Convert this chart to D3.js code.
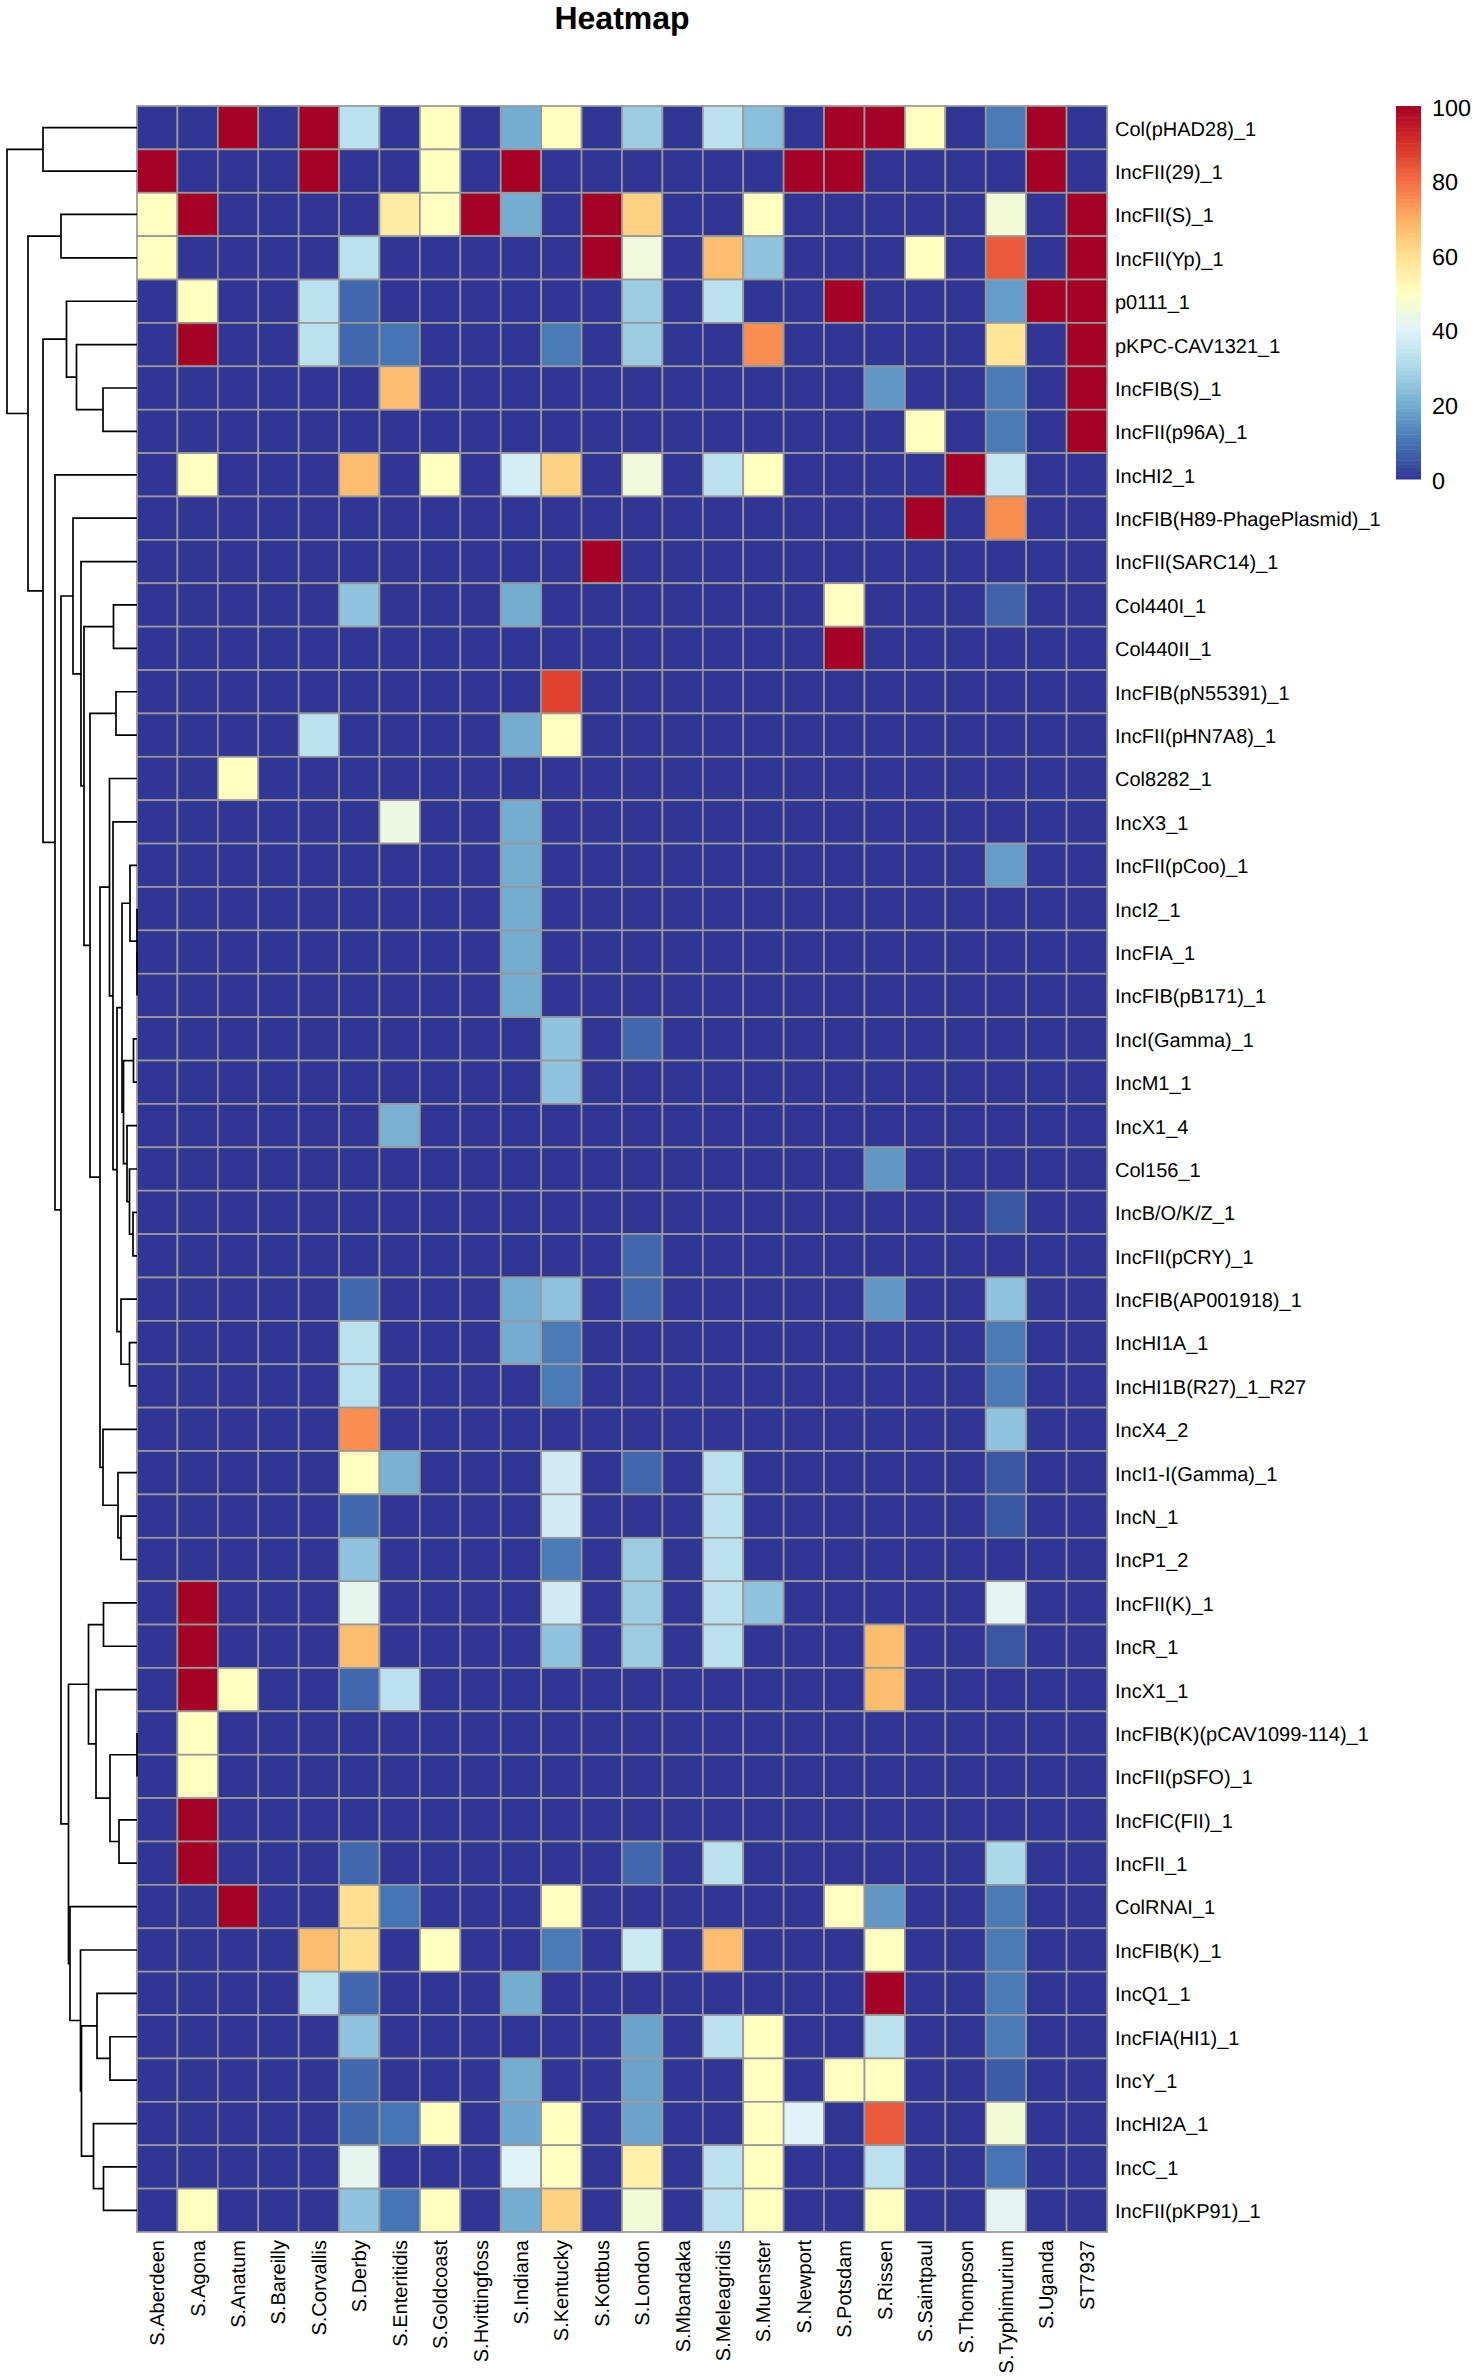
<!DOCTYPE html>
<html>
    <head>
        <meta charset="utf-8">
        <title>Heatmap</title>
        <script src="https://d3js.org/d3.v7.min.js"></script>
        <style>
            html, body { margin: 0; padding: 0; background: #fff; }
            text { font-family: "Liberation Sans", Arial, sans-serif; fill: #000; text-rendering: geometricPrecision; }
        </style>
    </head>
    <body>
        <svg width="1477" height="2376"></svg>

        <script type="text/javascript">
            const serovars = ["S.Aberdeen","S.Agona","S.Anatum","S.Bareilly","S.Corvallis","S.Derby","S.Enteritidis","S.Goldcoast",
                "S.Hvittingfoss","S.Indiana","S.Kentucky","S.Kottbus","S.London","S.Mbandaka","S.Meleagridis","S.Muenster",
                "S.Newport","S.Potsdam","S.Rissen","S.Saintpaul","S.Thompson","S.Typhimurium","S.Uganda","ST7937"];

            const plasmids = ["Col(pHAD28)_1","IncFII(29)_1","IncFII(S)_1","IncFII(Yp)_1","p0111_1","pKPC-CAV1321_1","IncFIB(S)_1",
                "IncFII(p96A)_1","IncHI2_1","IncFIB(H89-PhagePlasmid)_1","IncFII(SARC14)_1","Col440I_1","Col440II_1",
                "IncFIB(pN55391)_1","IncFII(pHN7A8)_1","Col8282_1","IncX3_1","IncFII(pCoo)_1","IncI2_1","IncFIA_1",
                "IncFIB(pB171)_1","IncI(Gamma)_1","IncM1_1","IncX1_4","Col156_1","IncB/O/K/Z_1","IncFII(pCRY)_1",
                "IncFIB(AP001918)_1","IncHI1A_1","IncHI1B(R27)_1_R27","IncX4_2","IncI1-I(Gamma)_1","IncN_1","IncP1_2",
                "IncFII(K)_1","IncR_1","IncX1_1","IncFIB(K)(pCAV1099-114)_1","IncFII(pSFO)_1","IncFIC(FII)_1","IncFII_1",
                "ColRNAI_1","IncFIB(K)_1","IncQ1_1","IncFIA(HI1)_1","IncY_1","IncHI2A_1","IncC_1","IncFII(pKP91)_1"];

            // one row per plasmid, one value per serovar
            const values = [
                [0,0,100,0,100,33,0,50,0,20,50,0,27,0,33,24,0,100,100,50,0,11,100,0],
                [100,0,0,0,100,0,0,50,0,100,0,0,0,0,0,0,100,100,0,0,0,0,100,0],
                [50,100,0,0,0,0,56,50,100,20,0,100,63,0,0,50,0,0,0,0,0,46,0,100],
                [50,0,0,0,0,33,0,0,0,0,0,100,45,0,67,25,0,0,0,50,0,83,0,100],
                [0,50,0,0,33,8,0,0,0,0,0,0,27,0,33,0,0,100,0,0,0,17,100,100],
                [0,100,0,0,33,8,10,0,0,0,11,0,27,0,0,75,0,0,0,0,0,58,0,100],
                [0,0,0,0,0,0,67,0,0,0,0,0,0,0,0,0,0,0,16,0,0,11,0,100],
                [0,0,0,0,0,0,0,0,0,0,0,0,0,0,0,0,0,0,0,50,0,11,0,100],
                [0,50,0,0,0,67,0,50,0,38,63,0,45,0,33,50,0,0,0,0,100,35,0,0],
                [0,0,0,0,0,0,0,0,0,0,0,0,0,0,0,0,0,0,0,100,0,75,0,0],
                [0,0,0,0,0,0,0,0,0,0,0,100,0,0,0,0,0,0,0,0,0,0,0,0],
                [0,0,0,0,0,25,0,0,0,20,0,0,0,0,0,0,0,50,0,0,0,7,0,0],
                [0,0,0,0,0,0,0,0,0,0,0,0,0,0,0,0,0,100,0,0,0,0,0,0],
                [0,0,0,0,0,0,0,0,0,0,87,0,0,0,0,0,0,0,0,0,0,0,0,0],
                [0,0,0,0,33,0,0,0,0,20,50,0,0,0,0,0,0,0,0,0,0,0,0,0],
                [0,0,50,0,0,0,0,0,0,0,0,0,0,0,0,0,0,0,0,0,0,0,0,0],
                [0,0,0,0,0,0,44,0,0,20,0,0,0,0,0,0,0,0,0,0,0,0,0,0],
                [0,0,0,0,0,0,0,0,0,20,0,0,0,0,0,0,0,0,0,0,0,17,0,0],
                [0,0,0,0,0,0,0,0,0,20,0,0,0,0,0,0,0,0,0,0,0,0,0,0],
                [0,0,0,0,0,0,0,0,0,20,0,0,0,0,0,0,0,0,0,0,0,0,0,0],
                [0,0,0,0,0,0,0,0,0,20,0,0,0,0,0,0,0,0,0,0,0,0,0,0],
                [0,0,0,0,0,0,0,0,0,0,25,0,8,0,0,0,0,0,0,0,0,0,0,0],
                [0,0,0,0,0,0,0,0,0,0,25,0,0,0,0,0,0,0,0,0,0,0,0,0],
                [0,0,0,0,0,0,21,0,0,0,0,0,0,0,0,0,0,0,0,0,0,0,0,0],
                [0,0,0,0,0,0,0,0,0,0,0,0,0,0,0,0,0,0,16,0,0,0,0,0],
                [0,0,0,0,0,0,0,0,0,0,0,0,0,0,0,0,0,0,0,0,0,5,0,0],
                [0,0,0,0,0,0,0,0,0,0,0,0,8,0,0,0,0,0,0,0,0,0,0,0],
                [0,0,0,0,0,8,0,0,0,20,25,0,8,0,0,0,0,0,16,0,0,25,0,0],
                [0,0,0,0,0,33,0,0,0,20,11,0,0,0,0,0,0,0,0,0,0,11,0,0],
                [0,0,0,0,0,33,0,0,0,0,11,0,0,0,0,0,0,0,0,0,0,11,0,0],
                [0,0,0,0,0,75,0,0,0,0,0,0,0,0,0,0,0,0,0,0,0,25,0,0],
                [0,0,0,0,0,50,21,0,0,0,37,0,8,0,33,0,0,0,0,0,0,5,0,0],
                [0,0,0,0,0,8,0,0,0,0,37,0,0,0,33,0,0,0,0,0,0,5,0,0],
                [0,0,0,0,0,25,0,0,0,0,11,0,27,0,33,0,0,0,0,0,0,0,0,0],
                [0,100,0,0,0,42,0,0,0,0,37,0,27,0,33,25,0,0,0,0,0,41,0,0],
                [0,100,0,0,0,67,0,0,0,0,25,0,27,0,33,0,0,0,67,0,0,5,0,0],
                [0,100,50,0,0,8,33,0,0,0,0,0,0,0,0,0,0,0,67,0,0,0,0,0],
                [0,50,0,0,0,0,0,0,0,0,0,0,0,0,0,0,0,0,0,0,0,0,0,0],
                [0,50,0,0,0,0,0,0,0,0,0,0,0,0,0,0,0,0,0,0,0,0,0,0],
                [0,100,0,0,0,0,0,0,0,0,0,0,0,0,0,0,0,0,0,0,0,0,0,0],
                [0,100,0,0,0,8,0,0,0,0,0,0,8,0,33,0,0,0,0,0,0,30,0,0],
                [0,0,100,0,0,60,10,0,0,0,50,0,0,0,0,0,0,50,16,0,0,11,0,0],
                [0,0,0,0,67,60,0,50,0,0,11,0,36,0,67,0,0,0,50,0,0,11,0,0],
                [0,0,0,0,33,8,0,0,0,20,0,0,0,0,0,0,0,0,100,0,0,11,0,0],
                [0,0,0,0,0,25,0,0,0,0,0,0,18,0,33,50,0,0,33,0,0,11,0,0],
                [0,0,0,0,0,8,0,0,0,20,0,0,18,0,0,50,0,50,50,0,0,6,0,0],
                [0,0,0,0,0,8,10,50,0,19,50,0,18,0,0,50,40,0,83,0,0,46,0,0],
                [0,0,0,0,0,42,0,0,0,40,50,0,55,0,33,50,0,0,33,0,0,10,0,0],
                [0,50,0,0,0,25,10,50,0,20,63,0,46,0,33,50,0,0,50,0,0,41,0,0]
            ];

            // row clustering, hclust style: negative = row number, positive = earlier merge, then merge height
            const rowMerges = [
                [-1,-2,188],[-3,-4,152],[-7,-8,68],[-6,3,121],[-5,4,141],[-12,-13,47],[-14,-15,42],[-20,-21,0],
                [-19,8,0],[-18,9,14],[-22,-23,7],[-26,-27,8],[-25,12,15],[-24,13,20],[11,14,27],[10,15,30],
                [-29,-30,15],[-28,17,32],[16,18,40],[-17,19,48],[-16,20,55],[-33,-34,32],[-32,22,38],[-31,23,68],
                [21,24,74],[7,25,94],[6,26,106],[-11,27,112],[-10,28,128],[-35,-36,67],[-38,-39,0],[-40,-41,36],
                [31,32,54],[-37,33,82],[30,34,97],[-45,-46,54],[-44,36,80],[-48,-49,67],[-47,38,87],[37,39,111],
                [-43,40,113],[-42,41,134],[35,42,137],[29,43,152],[-9,44,164],[5,45,188],[2,46,218],[1,47,260]
            ];

            const legendTicks = [0, 20, 40, 60, 80, 100];
            const colorStops = ["#313695","#4575B4","#74ADD1","#ABD9E9","#E0F3F8","#FFFFBF","#FEE090","#FDAE61","#F46D43","#D73027","#A50026"];

            const svg = d3.select('svg');
            const gridLeft = 137, gridRight = 1107, gridTop = 106, gridBottom = 2232;

            const xScale = d3.scaleBand().domain(serovars).range([gridLeft, gridRight]);
            const yScale = d3.scaleBand().domain(plasmids).range([gridTop, gridBottom]);
            const myColor = d3.scaleLinear()
                            .domain(colorStops.map((c, i) => i * 10))
                            .range(colorStops);

            svg.append('text')
                .attr('x', 622).attr('y', 29)
                .attr('text-anchor', 'middle')
                .style('font-size', '32px').style('font-weight', 'bold')
                .text('Heatmap');

            // cells
            svg.append('g').selectAll('g')
                .data(values)
                .enter()
                .append('g')
                .each(function(row, r) {
                    d3.select(this).selectAll('rect')
                        .data(row)
                        .enter()
                        .append('rect')
                        .attr('x', (d, c) => xScale(serovars[c]))
                        .attr('y', yScale(plasmids[r]))
                        .attr('width', xScale.bandwidth())
                        .attr('height', yScale.bandwidth())
                        .attr('fill', d => myColor(d))
                        .attr('stroke', '#999')
                        .attr('stroke-width', 1.7);
                });

            // row labels
            const rowAxis = svg.append('g')
                .attr('transform', `translate(${gridRight},1.5)`)
                .call(d3.axisRight(yScale).tickSize(0).tickPadding(8));
            rowAxis.select('.domain').remove();
            rowAxis.selectAll('text').style('font-size', '20px').attr('font-family', null);

            // column labels
            const colAxis = svg.append('g')
                .attr('transform', `translate(0,${gridBottom})`)
                .call(d3.axisBottom(xScale).tickSize(0));
            colAxis.select('.domain').remove();
            colAxis.selectAll('text')
                .style('font-size', '20px')
                .attr('font-family', null)
                .attr('text-anchor', 'end')
                .attr('dy', '0.35em')
                .attr('y', 0)
                .attr('transform', 'translate(0,8) rotate(-90)');

            // dendrogram
            const nodes = [];
            rowMerges.forEach(m => {
                const child = k => k < 0 ? { name: plasmids[-k - 1], height: 0 } : nodes[k - 1];
                nodes.push({ height: m[2], children: [child(m[0]), child(m[1])] });
            });
            const rootNode = d3.hierarchy(nodes[nodes.length - 1]);
            const treeX = d3.scaleLinear().domain([0, 260]).range([gridLeft, 7]);
            rootNode.eachAfter(n => {
                n.py = n.children ? d3.mean(n.children, c => c.py)
                                  : yScale(n.data.name) + yScale.bandwidth() / 2;
            });
            svg.append('g').selectAll('path')
                .data(rootNode.descendants().filter(n => n.children))
                .enter()
                .append('path')
                .attr('fill', 'none')
                .attr('stroke', '#000')
                .attr('stroke-width', 1.7)
                .attr('d', n => {
                    const p = d3.path();
                    const x = treeX(n.data.height);
                    const [a, b] = n.children;
                    p.moveTo(treeX(a.data.height), a.py);
                    p.lineTo(x, a.py);
                    p.lineTo(x, b.py);
                    p.lineTo(treeX(b.data.height), b.py);
                    return p.toString();
                });

            // legend
            const legendY = d3.scaleLinear().domain([0, 100]).range([479, 106]);
            svg.append('g').selectAll('rect')
                .data(d3.range(0, 100))
                .enter()
                .append('rect')
                .attr('x', 1396)
                .attr('y', d => legendY(d + 1))
                .attr('width', 25)
                .attr('height', d => legendY(d) - legendY(d + 1) + 0.5)
                .attr('fill', d => myColor(d + 0.5));
            const legendAxis = svg.append('g')
                .attr('transform', 'translate(1421,1.5)')
                .call(d3.axisRight(legendY).tickValues(legendTicks).tickSize(0).tickPadding(11));
            legendAxis.select('.domain').remove();
            legendAxis.selectAll('text').style('font-size', '23.4px').attr('font-family', null);
        </script>
    </body>
</html>
